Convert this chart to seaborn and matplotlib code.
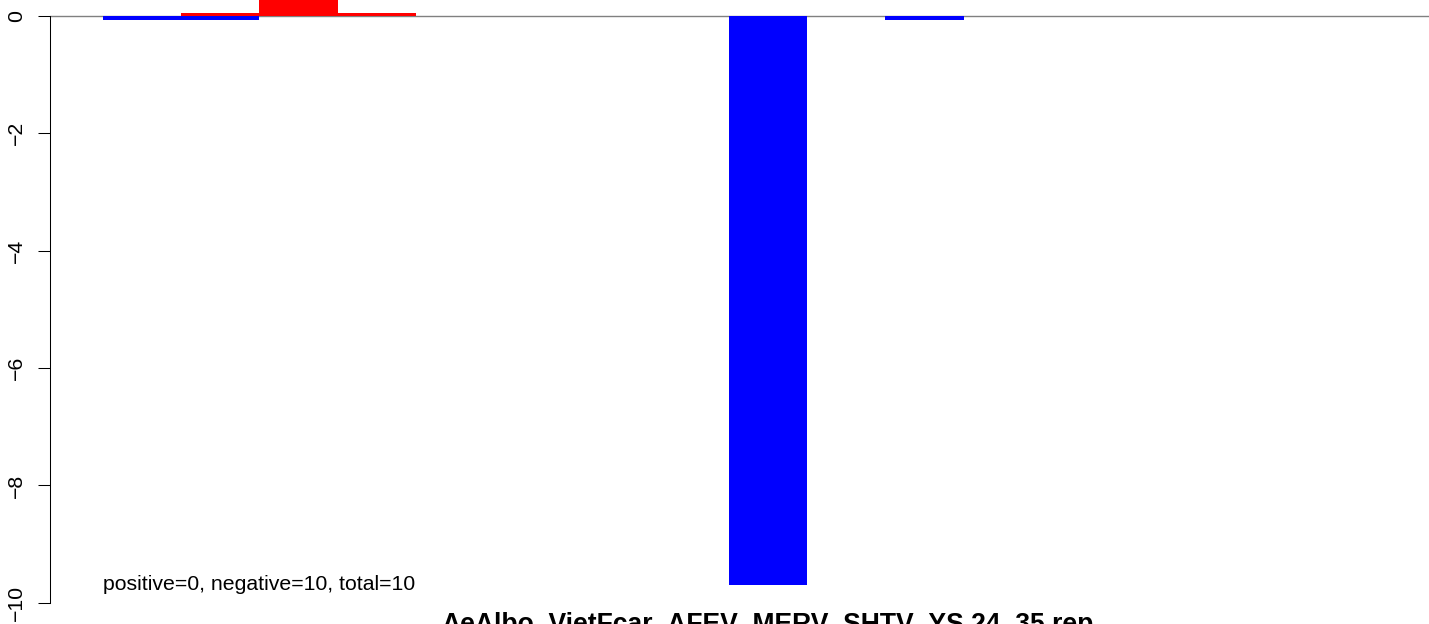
import matplotlib
matplotlib.use("Agg")
import matplotlib.pyplot as plt
import seaborn as sns
import pandas as pd

# Data
slots = [str(i) for i in range(17)]          # bar slots along the x axis
blue_slots = ["0", "1", "8", "10"]
blue_vals = [-0.07, -0.07, -9.69, -0.07]
red_slots = ["1", "2", "3"]
red_vals = [0.055, 0.5, 0.055]
yticks = [0, -2, -4, -6, -8, -10]
note = "positive=0, negative=10, total=10"
title = "AeAlbo_VietFcar_AFEV_MERV_SHTV_YS.24_35.rep"

sns.set_style("white")
plt.rcParams["font.family"] = ["Liberation Sans", "DejaVu Sans"]
plt.rcParams["text.color"] = "black"

fig = plt.figure(figsize=(14.29, 6.24), dpi=100)
ax = fig.add_axes([50 / 1429, 0, 1 - 50 / 1429, 1])

ax.axhline(0, color="#808080", lw=1, zorder=0)

blue_df = pd.DataFrame({"slot": blue_slots, "val": blue_vals})
red_df = pd.DataFrame({"slot": red_slots, "val": red_vals})
sns.barplot(data=blue_df, x="slot", y="val", order=slots, color="#0000ff",
            saturation=1, width=1, linewidth=0, errorbar=None, ax=ax, zorder=2)
sns.barplot(data=red_df, x="slot", y="val", order=slots, color="#ff0000",
            saturation=1, width=1, linewidth=0, errorbar=None, ax=ax, zorder=2)

ax.set_xlim(-1.178, 16.45)
ax.set_ylim(-10.36, 0.2726)
ax.set_xlabel("")
ax.set_ylabel("")
ax.set_xticks([])

for s in ["top", "right", "bottom"]:
    ax.spines[s].set_visible(False)
ax.spines["left"].set_bounds(-10, 0)
ax.spines["left"].set_linewidth(0.75)
ax.spines["left"].set_color("black")
ax.set_yticks(yticks)
ax.set_yticklabels([str(v).replace("-", "\u2212") for v in yticks],
                   rotation=90, va="center", fontsize=15.3)
ax.tick_params(axis="y", left=True, length=8.6, width=0.75, pad=8.6, colors="black")

ax.text(-0.5, -9.78, note, fontsize=15.3, ha="left", va="baseline", color="black")
fig.text(768 / 1429, -8 / 624, title, fontsize=19.1, fontweight="bold",
         ha="center", va="baseline", color="black")

fig.savefig("out.png", dpi=100)
